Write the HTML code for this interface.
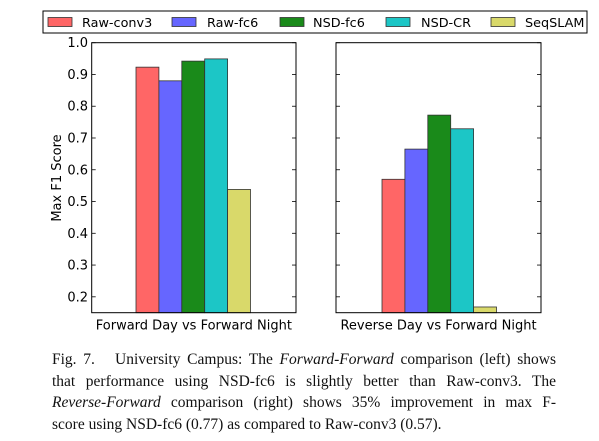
<!DOCTYPE html>
<html><head><meta charset="utf-8"><style>
body{margin:0;width:599px;height:441px;background:#fff;overflow:hidden;position:relative}
svg{position:absolute;left:0;top:0}
.cap{position:absolute;left:52px;top:349px;width:504px;font:15.5px/21.5px "Liberation Serif",serif;color:#111}
.cap div{text-align:justify;text-align-last:justify;white-space:nowrap}
.cap div.last{text-align-last:left}
</style></head><body>
<svg id="chart" width="599" height="345" font-family="DejaVu Sans, Liberation Sans, sans-serif"></svg>
<div class="cap">
<div>Fig. 7.&nbsp;&nbsp; University Campus: The <i>Forward-Forward</i> comparison (left) shows</div>
<div>that performance using NSD-fc6 is slightly better than Raw-conv3. The</div>
<div><i>Reverse-Forward</i> comparison (right) shows 35% improvement in max F-</div>
<div class="last">score using NSD-fc6 (0.77) as compared to Raw-conv3 (0.57).</div>
</div>
<script>
const series=["Raw-conv3","Raw-fc6","NSD-fc6","NSD-CR","SeqSLAM"];
const colors=["#ff6666","#6666ff","#1a8a1a","#1cc6c6","#d9d96a"];
const panels=["Forward Day vs Forward Night","Reverse Day vs Forward Night"];
const leftValues=[0.923,0.88,0.942,0.949,0.538];
const rightValues=[0.57,0.665,0.772,0.729,0.168];
const yTicks=[0.2,0.3,0.4,0.5,0.6,0.7,0.8,0.9,1.0];
{
const NS="http://www.w3.org/2000/svg";
const svg=document.getElementById('chart');
const yMin=0.15,yMax=1.0,yTop=42.7,yBot=312.7;
function y(v){return yBot-(v-yMin)/(yMax-yMin)*(yBot-yTop);}
function mk(t,a,p){const e=document.createElementNS(NS,t);for(const k in a)e.setAttribute(k,a[k]);(p||svg).appendChild(e);return e;}
const axes=[{x0:91.7,x1:296,vals:leftValues,off:44.3},{x0:336,x1:541,vals:rightValues,off:46}];
const bw=22.9;
axes.forEach((ax,pi)=>{
  ax.vals.forEach((v,i)=>{
    const r=mk('rect',{x:ax.x0+ax.off+i*bw,y:y(v),width:bw,height:yBot-y(v),fill:colors[i],stroke:"#333","stroke-width":0.8});
    
    
  });
  yTicks.forEach(t=>{
    mk('line',{x1:ax.x0,x2:ax.x0+4,y1:y(t),y2:y(t),stroke:"#000","stroke-width":0.8});
    mk('line',{x1:ax.x1-4,x2:ax.x1,y1:y(t),y2:y(t),stroke:"#000","stroke-width":0.8});
  });
  const f=mk('rect',{x:ax.x0,y:yTop,width:ax.x1-ax.x0,height:yBot-yTop,fill:"none",stroke:"#000","stroke-width":1});
  
  
  const l=mk('text',{x:(ax.x0+ax.x1)/2,y:yBot+17,"text-anchor":"middle","font-size":"13"});
  l.textContent=panels[pi];
  
  
});
yTicks.forEach(t=>{
  const tx=mk('text',{x:88,y:y(t)+4.5,"text-anchor":"end","font-size":"13"});
  tx.textContent=t.toFixed(1);
  
  
});
const yl=mk('text',{x:0,y:0,transform:"translate(61,178) rotate(-90)","text-anchor":"middle","font-size":"13"});
yl.textContent="Max F1 Score";


const lg=mk('g',{});


mk('rect',{x:43,y:11,width:544,height:22,fill:"#fff",stroke:"#000","stroke-width":1},lg);
const px=[48,172,280,386,491],tx=[82,207,313,421,525];
series.forEach((s,i)=>{
  const p=mk('rect',{x:px[i],y:17.5,width:24,height:9,fill:colors[i],stroke:"#333","stroke-width":0.8},lg);
  
  
  const t=mk('text',{x:tx[i],y:27,"font-size":"12.8"},lg);
  t.textContent=s;
  
  
});
}
</script>
</body></html>
